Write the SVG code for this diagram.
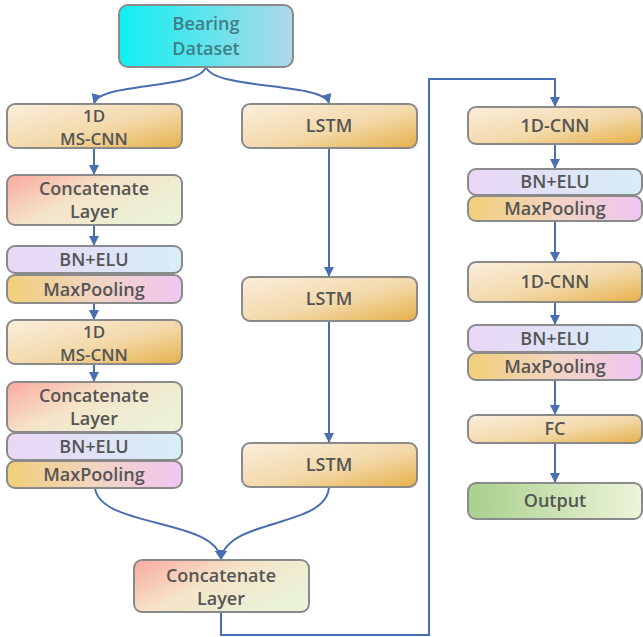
<svg xmlns="http://www.w3.org/2000/svg" width="643" height="637" viewBox="0 0 643 637">
<style>
.b{stroke:#8a8a8a;stroke-width:2}
.t{font-family:"Open Sans","Noto Sans",sans-serif;font-weight:600;font-size:18px;fill:#555555;text-anchor:middle}
.s{font-size:17px}
.c{fill:none;stroke:#4a6fb0;stroke-width:2}
</style>
<defs>
<linearGradient id="gOr" x1="0" y1="0" x2="1" y2="1"><stop offset="0" stop-color="#fbeedd"/><stop offset="0.55" stop-color="#f3d9aa"/><stop offset="1" stop-color="#e6b04a"/></linearGradient>
<linearGradient id="gCat" x1="0" y1="0" x2="1" y2="0.6"><stop offset="0" stop-color="#f9a9a0"/><stop offset="0.5" stop-color="#f5e4c8"/><stop offset="1" stop-color="#eaf2d8"/></linearGradient>
<linearGradient id="gBn" x1="0" y1="0" x2="1" y2="0"><stop offset="0" stop-color="#ead6f6"/><stop offset="1" stop-color="#d6eef8"/></linearGradient>
<linearGradient id="gMp" x1="0" y1="0" x2="1" y2="0"><stop offset="0" stop-color="#f1cf78"/><stop offset="0.5" stop-color="#f2d4c2"/><stop offset="1" stop-color="#efc6f2"/></linearGradient>
<linearGradient id="gOut" x1="0" y1="0" x2="1" y2="0"><stop offset="0" stop-color="#a8d08c"/><stop offset="1" stop-color="#eef4da"/></linearGradient>
<linearGradient id="gBd" x1="0" y1="0" x2="1" y2="0"><stop offset="0" stop-color="#10eff2"/><stop offset="1" stop-color="#b0d8e8"/></linearGradient>
<marker id="ar" viewBox="0 0 10 10" refX="9" refY="5" markerWidth="5" markerHeight="5" orient="auto"><path d="M0,0L10,5L0,10z" fill="#4a6fb0"/></marker>
</defs>
<g id="connectors">
<path class="c" d="M206,67 C198,90 100,82 94,103" marker-end="url(#ar)"/>
<path class="c" d="M206,67 C214,90 323,82 329,103" marker-end="url(#ar)"/>
<path class="c" d="M94,148 V174" marker-end="url(#ar)"/>
<path class="c" d="M94,225 V245" marker-end="url(#ar)"/>
<path class="c" d="M94,303 V319" marker-end="url(#ar)"/>
<path class="c" d="M94,364 V381" marker-end="url(#ar)"/>
<path class="c" d="M329,148 V276" marker-end="url(#ar)"/>
<path class="c" d="M329,321 V442" marker-end="url(#ar)"/>
<path class="c" d="M95,488 C100,528 215,518 221,559" marker-end="url(#ar)"/>
<path class="c" d="M329,487 C327,528 227,518 221,559" marker-end="url(#ar)"/>
<path class="c" d="M221,612 V635 H429 V79 H555 V106" marker-end="url(#ar)"/>
<path class="c" d="M555,144 V168" marker-end="url(#ar)"/>
<path class="c" d="M555,221 V261" marker-end="url(#ar)"/>
<path class="c" d="M555,302 V324" marker-end="url(#ar)"/>
<path class="c" d="M555,380 V414" marker-end="url(#ar)"/>
<path class="c" d="M555,443 V482" marker-end="url(#ar)"/>
</g>
<g id="bearing"><rect class="b" x="119" y="5" width="174" height="62" rx="9" fill="url(#gBd)"/><text class="t" x="206" y="30" style="fill:#3f7f86">Bearing</text><text class="t" x="206" y="55" style="fill:#3f7f86">Dataset</text></g>
<g id="ms1"><rect class="b" x="7" y="104" width="175" height="44" rx="8" fill="url(#gOr)"/><text class="t s" x="94" y="122">1D</text><text class="t s" x="94" y="145">MS-CNN</text></g>
<g id="lstm1"><rect class="b" x="242" y="104" width="175" height="44" rx="8" fill="url(#gOr)"/><text class="t" x="329" y="132">LSTM</text></g>
<g id="concat1"><rect class="b" x="7" y="175" width="175" height="50" rx="8" fill="url(#gCat)"/><text class="t" x="94" y="195">Concatenate</text><text class="t" x="94" y="218">Layer</text></g>
<g id="bn1"><rect class="b" x="7" y="246" width="175" height="27" rx="8" fill="url(#gBn)"/><text class="t" x="94" y="266">BN+ELU</text></g>
<g id="mp1"><rect class="b" x="7" y="275" width="175" height="28" rx="8" fill="url(#gMp)"/><text class="t" x="94" y="296">MaxPooling</text></g>
<g id="ms2"><rect class="b" x="7" y="320" width="175" height="44" rx="8" fill="url(#gOr)"/><text class="t s" x="94" y="338">1D</text><text class="t s" x="94" y="361">MS-CNN</text></g>
<g id="concat2"><rect class="b" x="7" y="382" width="175" height="50" rx="8" fill="url(#gCat)"/><text class="t" x="94" y="402">Concatenate</text><text class="t" x="94" y="425">Layer</text></g>
<g id="bn2"><rect class="b" x="7" y="433" width="175" height="27" rx="8" fill="url(#gBn)"/><text class="t" x="94" y="453">BN+ELU</text></g>
<g id="mp2"><rect class="b" x="7" y="461" width="175" height="27" rx="8" fill="url(#gMp)"/><text class="t" x="94" y="481">MaxPooling</text></g>
<g id="lstm2"><rect class="b" x="242" y="277" width="175" height="44" rx="8" fill="url(#gOr)"/><text class="t" x="329" y="305">LSTM</text></g>
<g id="lstm3"><rect class="b" x="242" y="443" width="175" height="44" rx="8" fill="url(#gOr)"/><text class="t" x="329" y="471">LSTM</text></g>
<g id="concat3"><rect class="b" x="134" y="560" width="175" height="52" rx="8" fill="url(#gCat)"/><text class="t" x="221" y="582">Concatenate</text><text class="t" x="221" y="605">Layer</text></g>
<g id="cnn1"><rect class="b" x="468" y="107" width="174" height="37" rx="8" fill="url(#gOr)"/><text class="t" x="555" y="132">1D-CNN</text></g>
<g id="bn3"><rect class="b" x="468" y="169" width="174" height="26" rx="8" fill="url(#gBn)"/><text class="t" x="555" y="188">BN+ELU</text></g>
<g id="mp3"><rect class="b" x="468" y="196" width="174" height="25" rx="8" fill="url(#gMp)"/><text class="t" x="555" y="215">MaxPooling</text></g>
<g id="cnn2"><rect class="b" x="468" y="262" width="174" height="40" rx="8" fill="url(#gOr)"/><text class="t" x="555" y="288">1D-CNN</text></g>
<g id="bn4"><rect class="b" x="468" y="325" width="174" height="27" rx="8" fill="url(#gBn)"/><text class="t" x="555" y="345">BN+ELU</text></g>
<g id="mp4"><rect class="b" x="468" y="353" width="174" height="27" rx="8" fill="url(#gMp)"/><text class="t" x="555" y="373">MaxPooling</text></g>
<g id="fc"><rect class="b" x="468" y="415" width="174" height="28" rx="8" fill="url(#gOr)"/><text class="t" x="555" y="435">FC</text></g>
<g id="output"><rect class="b" x="468" y="483" width="174" height="36" rx="8" fill="url(#gOut)"/><text class="t" x="555" y="507">Output</text></g>
</svg>
